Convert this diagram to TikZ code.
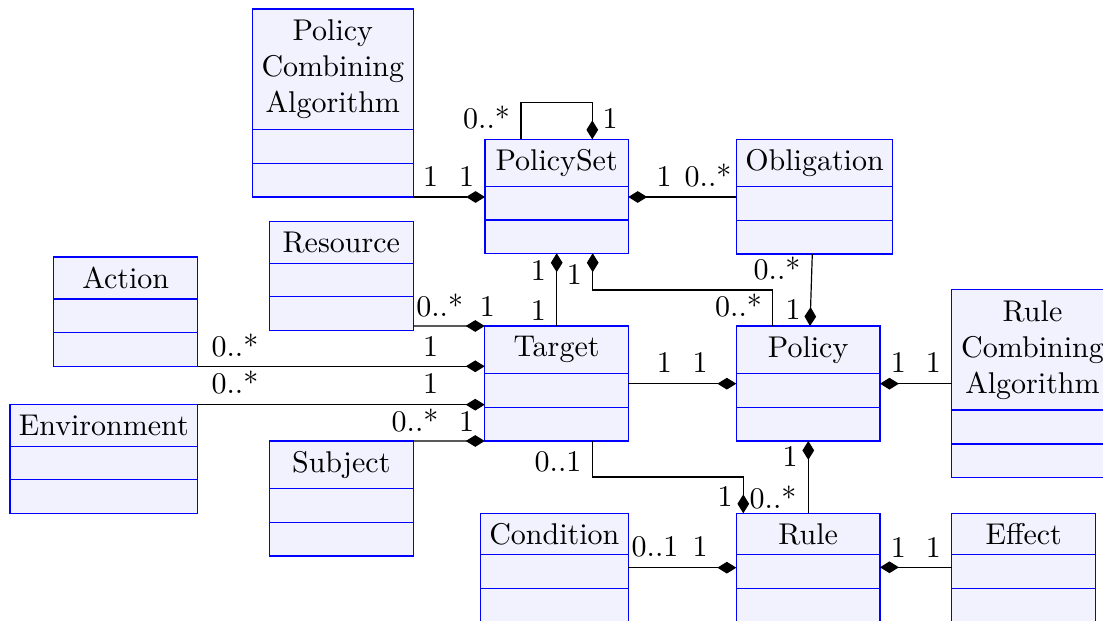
\documentclass[tikz,border=0pt]{standalone}
\usetikzlibrary{arrows.meta,fit}

\tikzset{
  classbox/.style={draw=blue, fill=blue!5, inner sep=0pt, outer sep=0pt, line width=0.4pt},
  classline/.style={draw=blue, line width=0.4pt},
  classtitle/.style={align=center, inner sep=0pt, font=\normalsize},
  mult/.style={inner sep=0pt, text height=6.44pt, text depth=0pt},
  compose/.style={draw=black, line width=0.4pt, -{Diamond[length=6.3pt,width=3.9pt]}},
}

% \umlclass{name}{x1}{y1}{x2}{y2}{first divider}{second divider}{title}
\newcommand\umlclass[8]{%
  \coordinate (#1-nw) at (#2,#3);
  \coordinate (#1-se) at (#4,#5);
  \node[classbox, fit=(#1-nw)(#1-se)] (#1) {};
  \draw[classline] (#2,#6) -- (#4,#6);
  \draw[classline] (#2,#7) -- (#4,#7);
  \node[classtitle] (#1-title) at ({(#2+#4)/2},{(#3+#6)/2}) {#8};
}

\begin{document}
\begin{tikzpicture}[x=0.33333pt, y=-0.33333pt]
\useasboundingbox (0,0) rectangle (1103,621);
\clip (0,0) rectangle (1103,621);

% classes
\umlclass{pca}{252.3}{9}{413.3}{197}{129.7}{163.3}{Policy\\Combining\\Algorithm}
\umlclass{ps}{485}{139.3}{628.3}{253.3}{186.7}{220}{PolicySet}
\umlclass{obl}{736.3}{139.3}{892.7}{254}{186.7}{220.3}{Obligation}
\umlclass{res}{269.3}{221.3}{413.3}{330.3}{263.3}{296.7}{Resource}
\umlclass{act}{53.7}{257}{197.7}{366.3}{299}{332.3}{Action}
\umlclass{env}{10}{404.7}{197.7}{513.7}{446.3}{479.7}{Environment}
\umlclass{sub}{269.3}{441}{413.3}{556}{488.7}{522.3}{Subject}
\umlclass{tgt}{484.7}{326}{628.3}{441}{373.7}{407.3}{Target}
\umlclass{pol}{736.3}{326}{880}{441}{373.7}{407.3}{Policy}
\umlclass{rca}{951.7}{289.7}{1113.3}{477.7}{410}{444}{Rule\\Combining\\Algorithm}
\umlclass{cond}{480.3}{513.3}{628.3}{623}{554.7}{588.7}{Condition}
\umlclass{rule}{736.3}{513.3}{880}{623}{554.7}{588.7}{Rule}
\umlclass{eff}{951.7}{513.3}{1095.7}{623}{554.7}{588.3}{Effect}

% compositions (diamond at the owning class)
\draw[compose] (pca.south east) -- (pca.south east -| ps.west);
\draw[compose] (ps.north -| 521,0) -- (521,102.7) -- (592.3,102.7) -- (ps.north -| 592.3,0);
\draw[compose] (obl.west |- 0,197) -- (ps.east |- 0,197);
\draw[compose] (tgt.north -| 556.7,0) -- (ps.south -| 556.7,0);
\draw[compose] (pol.north -| 772.3,0) -- (772.3,290) -- (592.7,290) -- (ps.south -| 592.7,0);
\draw[compose] (obl.south -| 812.3,0) -- (pol.north -| 810,0);
\draw[compose] (res.east |- 0,326) -- (tgt.north west);
\draw[compose] (act.south east) -- (act.south east -| tgt.west);
\draw[compose] (env.north east) -- (env.north east -| tgt.west);
\draw[compose] (sub.north east) -- (tgt.south west);
\draw[compose] (tgt.east |- 0,383.7) -- (pol.west |- 0,383.7);
\draw[compose] (tgt.south -| 592.7,0) -- (592.7,477) -- (743.3,477) -- (rule.north -| 743.3,0);
\draw[compose] (rule.north -| 808.3,0) -- (pol.south -| 808.3,0);
\draw[compose] (cond.east |- 0,567.7) -- (rule.west |- 0,567.7);
\draw[compose] (rca.west |- 0,383.7) -- (pol.east |- 0,383.7);
\draw[compose] (eff.west |- 0,567.3) -- (rule.east |- 0,567.3);

% multiplicities
\node[mult] (m1) at (430.7,176.7) {1};
\node[mult] (m2) at (466.7,176.7) {1};
\node[mult] (m3) at (486.5,119) {0..*};
\node[mult] (m4) at (610,119) {1};
\node[mult] (m5) at (664,176.7) {1};
\node[mult] (m6) at (708,176.7) {0..*};
\node[mult] (m7) at (777,270) {0..*};
\node[mult] (m8) at (793,310) {1};
\node[mult] (m9) at (738.5,306.7) {0..*};
\node[mult] (m10) at (538.3,270.7) {1};
\node[mult] (m11) at (574.3,275) {1};
\node[mult] (m12) at (538.3,310.7) {1};
\node[mult] (m13) at (439.7,306.7) {0..*};
\node[mult] (m14) at (487.3,306.7) {1};
\node[mult] (m15) at (235,346.7) {0..*};
\node[mult] (m16) at (430.7,346.7) {1};
\node[mult] (m17) at (235,384.3) {0..*};
\node[mult] (m18) at (430.7,384.3) {1};
\node[mult] (m19) at (415,421.7) {0..*};
\node[mult] (m20) at (466.7,421.7) {1};
\node[mult] (m21) at (664.3,363.3) {1};
\node[mult] (m22) at (700,363.3) {1};
\node[mult] (m23) at (558,461.7) {0..1};
\node[mult] (m24) at (725,497.3) {1};
\node[mult] (m25) at (773,499.3) {0..*};
\node[mult] (m26) at (790,456.7) {1};
\node[mult] (m27) at (655,547.3) {0..1};
\node[mult] (m28) at (700,547.3) {1};
\node[mult] (m29) at (898.3,363.3) {1};
\node[mult] (m30) at (933.3,363.3) {1};
\node[mult] (m31) at (898.3,548.3) {1};
\node[mult] (m32) at (933.3,548.3) {1};
\end{tikzpicture}
\end{document}
